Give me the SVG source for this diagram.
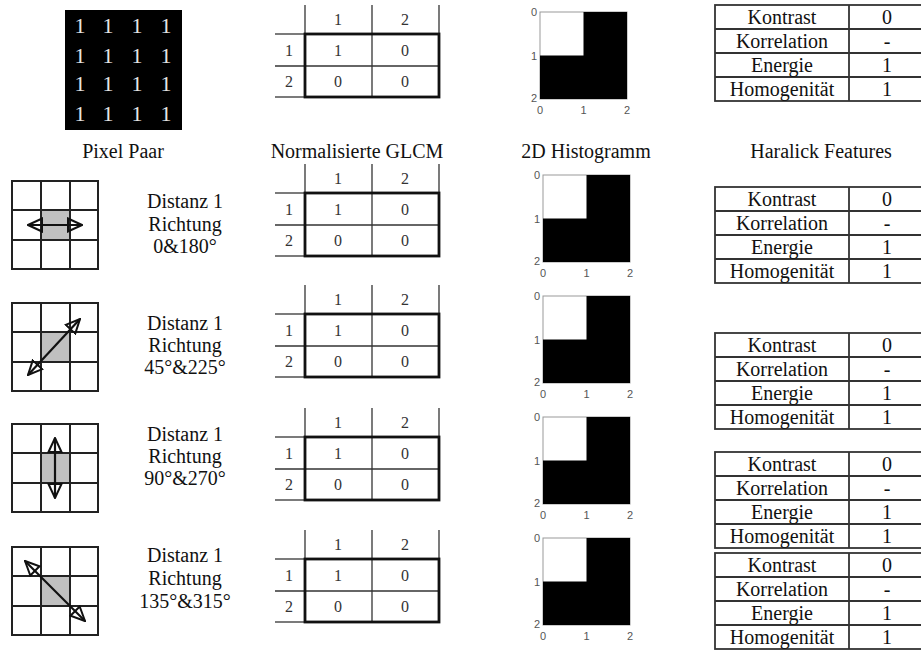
<svg xmlns="http://www.w3.org/2000/svg" width="921" height="651" viewBox="0 0 921 651" font-family="'Liberation Serif', 'Times New Roman', serif">
<style>
.h{font-family:'Liberation Serif','Times New Roman',serif;font-size:20px;text-anchor:middle;fill:#111}
.m{font-family:'Liberation Serif','Times New Roman',serif;font-size:22px;text-anchor:middle;fill:#e6e6e6}
.c{font-family:'Liberation Serif','Times New Roman',serif;font-size:16px;text-anchor:middle;fill:#333}
.ax{font-family:'Liberation Sans',Arial,sans-serif;font-size:11px;fill:#555}
.thin{stroke:#333;stroke-width:1.3;fill:none}
.thick{stroke:#111;stroke-width:2.8;fill:none}
.grid{stroke:#222;stroke-width:2;fill:none}
.arr{stroke:#111;stroke-width:2.2;fill:none;marker-start:url(#ah);marker-end:url(#ah)}
.ht{stroke:#333;stroke-width:1.8;fill:none}
</style>
<defs>
<marker id="ah" viewBox="0 0 16 16" refX="15" refY="8" markerWidth="16" markerHeight="16" markerUnits="userSpaceOnUse" orient="auto-start-reverse">
<path d="M1,1.5 L15,8 L1,14.5 Z" fill="none" stroke="#111" stroke-width="2" stroke-linejoin="miter"/>
</marker>
<g id="glcmT">
<line class="thin" x1="305" y1="0" x2="305" y2="30"/>
<line class="thin" x1="372" y1="0" x2="372" y2="93"/>
<line class="thin" x1="439" y1="0" x2="439" y2="30"/>
<line class="thin" x1="275" y1="29" x2="305" y2="29"/>
<line class="thin" x1="275" y1="61" x2="439" y2="61"/>
<line class="thin" x1="275" y1="92" x2="305" y2="92"/>
<rect class="thick" x="305" y="29" width="134" height="63"/>
<text class="c" x="338" y="20">1</text>
<text class="c" x="405" y="20">2</text>
<text class="c" x="289" y="51">1</text>
<text class="c" x="338" y="51">1</text>
<text class="c" x="405" y="51">0</text>
<text class="c" x="289" y="82">2</text>
<text class="c" x="338" y="82">0</text>
<text class="c" x="405" y="82">0</text>
</g>
<g id="histT">
<rect x="0" y="0" width="87" height="87" fill="#fff" stroke="#999" stroke-width="1"/>
<path d="M43.5,0 H87 V87 H0 V43.5 H43.5 Z" fill="#000"/>
<text class="ax" x="-3" y="4" text-anchor="end">0</text>
<text class="ax" x="-3" y="47.5" text-anchor="end">1</text>
<text class="ax" x="-3" y="90" text-anchor="end">2</text>
<text class="ax" x="0" y="102" text-anchor="middle">0</text>
<text class="ax" x="43.5" y="102" text-anchor="middle">1</text>
<text class="ax" x="87" y="102" text-anchor="middle">2</text>
</g>
<g id="harT">
<rect class="ht" x="715" y="0" width="220" height="96"/>
<line class="ht" x1="849" y1="0" x2="849" y2="96"/>
<line class="ht" x1="715" y1="24" x2="921" y2="24"/>
<line class="ht" x1="715" y1="48" x2="921" y2="48"/>
<line class="ht" x1="715" y1="72" x2="921" y2="72"/>
<text class="h" x="782" y="19">Kontrast</text>
<text class="h" x="887" y="19">0</text>
<text class="h" x="782" y="43">Korrelation</text>
<text class="h" x="887" y="43">-</text>
<text class="h" x="782" y="67">Energie</text>
<text class="h" x="887" y="67">1</text>
<text class="h" x="782" y="91">Homogenität</text>
<text class="h" x="887" y="91">1</text>
</g>
<g id="pgrid">
<rect class="grid" x="12" y="0" width="86" height="88"/>
<line class="grid" x1="41" y1="0" x2="41" y2="88"/>
<line class="grid" x1="70" y1="0" x2="70" y2="88"/>
<line class="grid" x1="12" y1="29" x2="98" y2="29"/>
<line class="grid" x1="12" y1="59" x2="98" y2="59"/>
</g>
</defs>

<g id="matrix">
<rect x="65" y="10" width="117" height="120" fill="#000"/>
<text class="m" x="80" y="33">1</text><text class="m" x="108" y="33">1</text><text class="m" x="137" y="33">1</text><text class="m" x="166" y="33">1</text>
<text class="m" x="80" y="63">1</text><text class="m" x="108" y="63">1</text><text class="m" x="137" y="63">1</text><text class="m" x="166" y="63">1</text>
<text class="m" x="80" y="91">1</text><text class="m" x="108" y="91">1</text><text class="m" x="137" y="91">1</text><text class="m" x="166" y="91">1</text>
<text class="m" x="80" y="121">1</text><text class="m" x="108" y="121">1</text><text class="m" x="137" y="121">1</text><text class="m" x="166" y="121">1</text>
</g>

<g id="headers">
<text class="h" x="123" y="158">Pixel Paar</text>
<text class="h" x="357" y="158">Normalisierte GLCM</text>
<text class="h" x="586" y="158">2D Histogramm</text>
<text class="h" x="821" y="158">Haralick Features</text>
</g>

<g id="glcm1"><use href="#glcmT" y="5"/></g>
<g id="glcm2"><use href="#glcmT" y="164"/></g>
<g id="glcm3"><use href="#glcmT" y="285"/></g>
<g id="glcm4"><use href="#glcmT" y="408"/></g>
<g id="glcm5"><use href="#glcmT" y="530"/></g>

<g id="hist1"><use href="#histT" x="540" y="12"/></g>
<g id="hist2"><use href="#histT" x="543" y="175"/></g>
<g id="hist3"><use href="#histT" x="543" y="296"/></g>
<g id="hist4"><use href="#histT" x="543" y="417"/></g>
<g id="hist5"><use href="#histT" x="543" y="538"/></g>

<g id="har1"><use href="#harT" y="5"/></g>
<g id="har2"><use href="#harT" y="187"/></g>
<g id="har3"><use href="#harT" y="333"/></g>
<g id="har4"><use href="#harT" y="452"/></g>
<g id="har5"><use href="#harT" y="553"/></g>

<g id="pair1">
<rect x="41" y="210" width="29" height="30" fill="#c0c0c0"/>
<use href="#pgrid" y="181"/>
<text class="h" x="185" y="208">Distanz 1</text>
<text class="h" x="185" y="231">Richtung</text>
<text class="h" x="185" y="253">0&amp;180°</text>
</g>
<g id="pair2">
<rect x="41" y="332" width="29" height="30" fill="#c0c0c0"/>
<use href="#pgrid" y="303"/>
<text class="h" x="185" y="330">Distanz 1</text>
<text class="h" x="185" y="352">Richtung</text>
<text class="h" x="185" y="374">45°&amp;225°</text>
</g>
<g id="pair3">
<rect x="41" y="453" width="29" height="30" fill="#c0c0c0"/>
<use href="#pgrid" y="424"/>
<text class="h" x="185" y="441">Distanz 1</text>
<text class="h" x="185" y="463">Richtung</text>
<text class="h" x="185" y="485">90°&amp;270°</text>
</g>
<g id="pair4">
<rect x="41" y="576" width="29" height="30" fill="#c0c0c0"/>
<use href="#pgrid" y="547"/>
<text class="h" x="185" y="562">Distanz 1</text>
<text class="h" x="185" y="585">Richtung</text>
<text class="h" x="185" y="608">135°&amp;315°</text>
</g>

<g id="connectors">
<line class="arr" x1="28" y1="225" x2="82" y2="225"/>
<line class="arr" x1="28" y1="375" x2="80" y2="319"/>
<line class="arr" x1="55" y1="438" x2="55" y2="498"/>
<line class="arr" x1="25" y1="561" x2="85" y2="621"/>
</g>
</svg>
